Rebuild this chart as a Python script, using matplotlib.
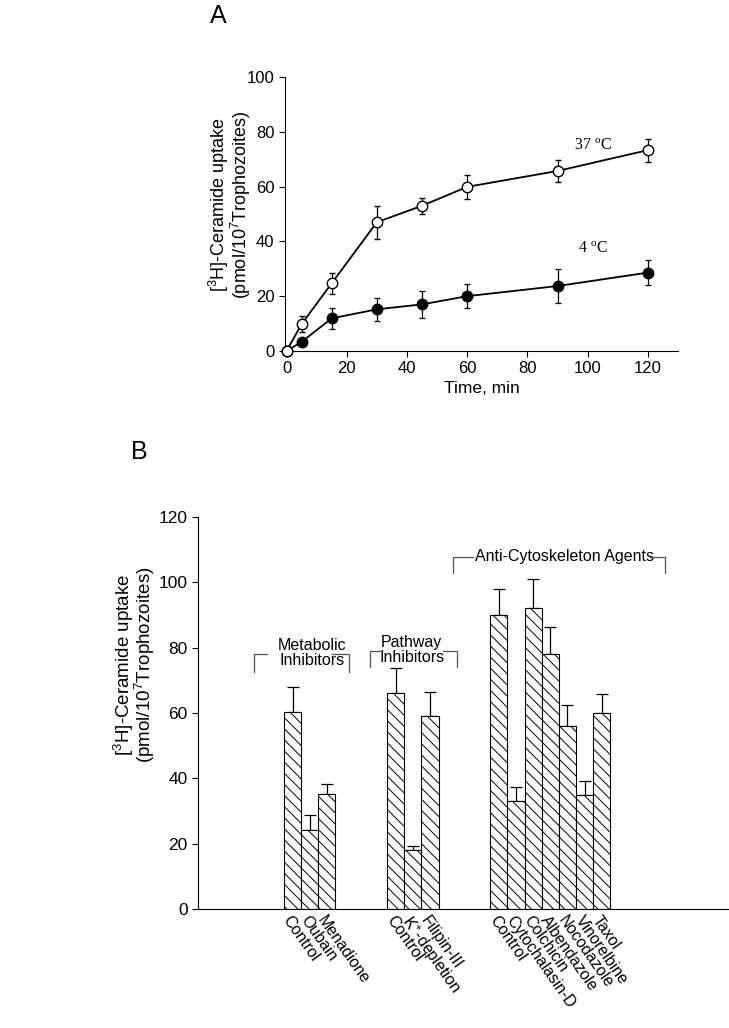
import numpy as np
import matplotlib.pyplot as plt

plt.rcParams['font.family'] = ['Liberation Sans', 'DejaVu Sans']
plt.rcParams['hatch.linewidth'] = 0.7

# panel A: time course
time_min = [0, 5, 15, 30, 45, 60, 90, 120]
uptake_37 = [0, 9.8, 24.7, 47, 53, 59.9, 65.7, 73.3]
err_37 = [0, 3, 3.8, 6, 3, 4.3, 4, 4.2]
uptake_4 = [0, 3.3, 11.9, 15.2, 17, 20, 23.7, 28.6]
err_4 = [0, 0, 3.8, 4.2, 5, 4.4, 6.1, 4.7]

# panel B: inhibitors
metabolic = ['Control', 'Oubain', 'Menadione']
metabolic_val = [60.3, 24.3, 35.1]
metabolic_err = [7.6, 4.5, 3.1]
pathway = ['Control', 'K$^{\\mathregular{+}}$-depletion', 'Filipin-III']
pathway_val = [66.0, 18.1, 59.0]
pathway_err = [7.8, 1.1, 7.4]
cyto = ['Control', 'Cytochalasin-D', 'Colchicin', 'Albendazole',
        'Nocodazole', 'Vinorelbine', 'Taxol']
cyto_val = [89.9, 33.0, 92.1, 78.1, 56.0, 35.0, 59.9]
cyto_err = [7.9, 4.2, 9.0, 8.1, 6.3, 4.2, 5.9]

ylab = '[$^{\\mathregular{3}}$H]-Ceramide uptake\n(pmol/10$^{\\mathregular{7}}$Trophozoites)'

fig = plt.figure(figsize=(7.29, 10.28), dpi=100)

# ---- A ----
ax = fig.add_axes([0.391, 0.6586, 0.539, 0.2665])
ax.errorbar(time_min, uptake_4, yerr=err_4, color='black', lw=1.3,
            marker='o', ms=7.5, mfc='black', mec='black',
            ecolor='black', elinewidth=0.9, capsize=2.5, capthick=0.9,
            zorder=2, clip_on=False)
ax.errorbar(time_min, uptake_37, yerr=err_37, color='black', lw=1.3,
            marker='o', ms=7.5, mfc='white', mec='black', mew=1.0,
            ecolor='black', elinewidth=0.9, capsize=2.5, capthick=0.9,
            zorder=3, clip_on=False)
ax.set_xlim(-0.5, 130)
ax.set_ylim(0, 100)
ax.set_xticks(range(0, 121, 20))
ax.set_yticks(range(0, 101, 20))
ax.spines['top'].set_visible(False)
ax.spines['right'].set_visible(False)
ax.tick_params(labelsize=12, length=4, width=0.8)
ax.set_xlabel('Time, min', fontsize=12.5, labelpad=3)
fig.text(230 / 729, 1 - 205 / 1028, ylab, rotation=90, ha='center', va='center',
         fontsize=13, linespacing=0.85)
ax.text(95.4, 73.4, '37 $^{\\mathregular{o}}$C', family='Liberation Serif', fontsize=11.5)
ax.text(96.7, 35.8, '4 $^{\\mathregular{o}}$C', family='Liberation Serif', fontsize=11.5)
fig.text(210 / 729, 1 - 16 / 1028, 'A', fontsize=18, ha='left', va='center')

# ---- B ----
bx = fig.add_axes([0.2716, 0.1158, 0.7284, 0.3813])
groups = [(metabolic, metabolic_val, metabolic_err, 5.5),
          (pathway, pathway_val, pathway_err, 11.5),
          (cyto, cyto_val, cyto_err, 17.5)]
ticks, labels = [], []
for names, vals, errs, start in groups:
    x = start + np.arange(len(vals))
    bx.bar(x, vals, width=1.0, color='white', edgecolor='black', lw=0.8,
           hatch='\\\\\\', zorder=2)
    bx.errorbar(x, vals, yerr=[np.zeros(len(errs)), errs], fmt='none',
                ecolor='black', elinewidth=0.9, capsize=4, capthick=0.9, zorder=1)
    ticks += list(x)
    labels += names
bx.set_xlim(0, 30.9)
bx.set_ylim(0, 120)
bx.set_yticks(range(0, 121, 20))
bx.set_xticks(ticks)
bx.set_xticklabels(labels, rotation=-55, ha='left', va='top',
                   rotation_mode='anchor', fontsize=11.5)
bx.tick_params(axis='x', length=0, pad=3)
bx.tick_params(axis='y', labelsize=12.5, length=4, width=0.8)
bx.spines['top'].set_visible(False)
bx.spines['right'].set_visible(False)
fig.text(134 / 729, 1 - 665 / 1028, ylab, rotation=90, ha='center', va='center',
         fontsize=13.5, linespacing=0.8)

# group brackets
def bracket(x0, x1, x2, x3, ytop, ybot):
    kw = dict(color='#555555', lw=0.9, clip_on=False)
    bx.plot([x0, x0, x1], [ybot, ytop, ytop], **kw)
    bx.plot([x2, x3, x3], [ytop, ytop, ybot], **kw)

bracket(3.26, 4.0, 7.8, 8.78, 78, 72.5)
bx.text(6.63, 78.4, 'Metabolic\nInhibitors', ha='center', va='center',
        fontsize=11.5, linespacing=1.0)
bracket(10.0, 10.58, 14.24, 15.1, 78.9, 74)
bx.text(12.44, 79.4, 'Pathway\nInhibitors', ha='center', va='center',
        fontsize=11.5, linespacing=1.0)
bracket(14.83, 16.0, 26.28, 27.2, 107.6, 102.8)
bx.text(21.3, 107.8, 'Anti-Cytoskeleton Agents', ha='center', va='center',
        fontsize=11.5)
fig.text(131 / 729, 1 - 452 / 1028, 'B', fontsize=18, ha='left', va='center')

fig.savefig('out.png', dpi=100)
